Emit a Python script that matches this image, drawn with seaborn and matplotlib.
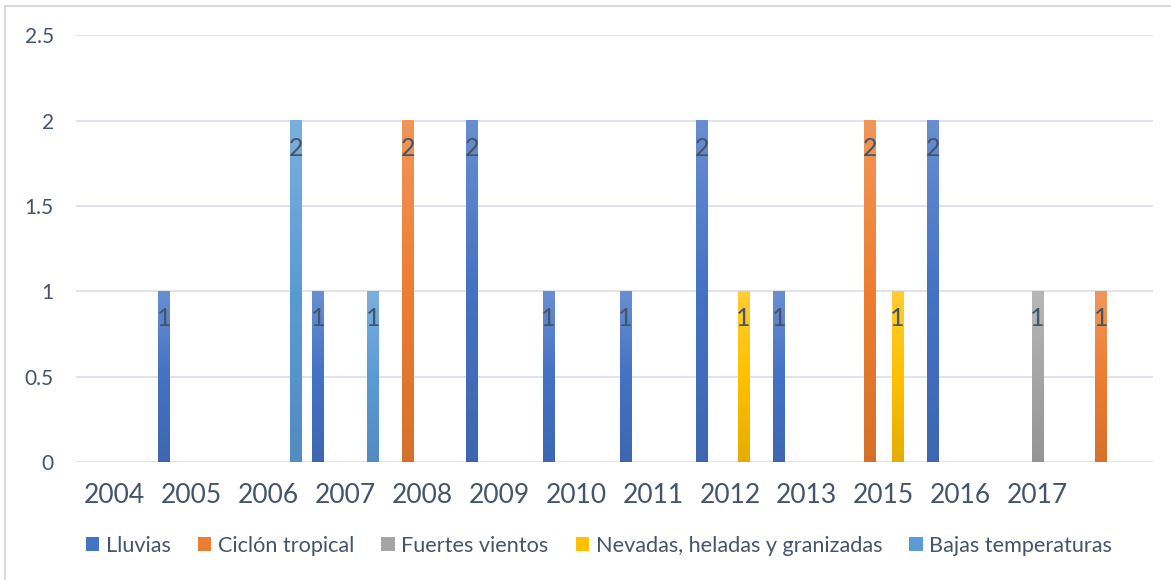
import numpy as np
import pandas as pd
import matplotlib
matplotlib.use("Agg")
import matplotlib.pyplot as plt
import matplotlib.colors as mcolors
from matplotlib.patches import Rectangle
from matplotlib.lines import Line2D
import seaborn as sns

# Eventos por año y tipo de fenómeno
years = ["2004", "2005", "2006", "2007", "2008", "2009", "2010",
         "2011", "2012", "2013", "2015", "2016", "2017", ""]
series = ["Lluvias", "Ciclón tropical", "Fuertes vientos",
          "Nevadas, heladas y granizadas", "Bajas temperaturas"]
lluvias = [0, 1, 0, 1, 0, 2, 1, 1, 2, 1, 0, 2, 0, 0]
ciclon = [0, 0, 0, 0, 2, 0, 0, 0, 0, 0, 2, 0, 0, 1]
vientos = [0, 0, 0, 0, 0, 0, 0, 0, 0, 0, 0, 0, 1, 0]
nevadas = [0, 0, 0, 0, 0, 0, 0, 0, 1, 0, 1, 0, 0, 0]
bajas = [0, 0, 2, 1, 0, 0, 0, 0, 0, 0, 0, 0, 0, 0]
colors = ["#4472C4", "#ED7D31", "#A5A5A5", "#FFC000", "#5B9BD5"]

values = [lluvias, ciclon, vientos, nevadas, bajas]
df = pd.DataFrame({
    "year": np.tile(years, len(series)),
    "serie": np.repeat(series, len(years)),
    "value": np.concatenate(values),
})

sns.set_theme(style="white")
plt.rcParams["font.family"] = ["Lato", "DejaVu Sans"]
text_color = "#44546A"
grid_color = "#E0E3EA"

fig = plt.figure(figsize=(11.71, 5.80), dpi=100)
ax = fig.add_axes([76 / 1171, 1 - 462 / 580, (1153 - 76) / 1171, (462 - 35.4) / 580])

sns.barplot(data=df, x="year", y="value", hue="serie", order=years,
            hue_order=series, palette=colors, width=0.893, gap=0.13,
            errorbar=None, legend=False, ax=ax, linewidth=0)


def shade(c, f):
    r = np.array(mcolors.to_rgb(c))
    if f >= 0:
        return r + (1 - r) * f
    return r * (1 + f)


# Vertical gradient fill for each bar, with value label near the top
n_cat = len(years)
for i, cont in enumerate(ax.containers):
    base = colors[i]
    top, mid, bot = shade(base, 0.2), np.array(mcolors.to_rgb(base)), shade(base, -0.1)
    t = np.linspace(0, 1, 256)[:, None]
    grad = np.where(t < 0.5, top + (mid - top) * (t / 0.5), mid + (bot - mid) * ((t - 0.5) / 0.5))
    img = grad[:, None, :]
    for bar, v in zip(cont, values[i]):
        if v <= 0:
            continue
        x0, w, h = bar.get_x(), bar.get_width(), bar.get_height()
        bar.set_visible(False)
        ax.imshow(img, extent=(x0, x0 + w, 0, h), aspect="auto",
                  interpolation="bilinear", zorder=3)
        ax.text(x0 + w / 2, h - 0.16, f"{v:g}", ha="center", va="center",
                fontsize=18, color=text_color, zorder=4)

ax.set_xlim(-0.5, n_cat - 0.5)
ax.set_ylim(0, 2.5)
ax.set_yticks([0, 0.5, 1, 1.5, 2, 2.5])
ax.set_yticklabels(["0", "0.5", "1", "1.5", "2", "2.5"])
ax.yaxis.grid(True, color=grid_color, linewidth=1.4, zorder=0)
ax.set_axisbelow(True)
for s in ax.spines.values():
    s.set_visible(False)
ax.tick_params(axis="y", length=0, pad=16, labelsize=15, labelcolor=text_color)
ax.tick_params(axis="x", length=0, pad=15, labelsize=19, labelcolor=text_color)
ax.set_xlabel("")
ax.set_ylabel("")

handles = [Rectangle((0, 0), 1, 1, facecolor=c, edgecolor="none") for c in colors]
fig.legend(handles, series, loc="center", bbox_to_anchor=(599 / 1171, 1 - 546 / 580),
           ncol=5, frameon=False, fontsize=15.6, handlelength=0.62, handleheight=0.62,
           handletextpad=0.3, columnspacing=1.25, labelcolor=text_color)

# Chart area border (left and top edges)
fig.add_artist(Line2D([5.5 / 1171, 5.5 / 1171], [0, 1 - 6 / 580],
                      transform=fig.transFigure, color="#D9D9D9", linewidth=1.5))
fig.add_artist(Line2D([5.5 / 1171, 1], [1 - 6 / 580, 1 - 6 / 580],
                      transform=fig.transFigure, color="#D9D9D9", linewidth=1.5))

fig.savefig("out.png", dpi=100)
